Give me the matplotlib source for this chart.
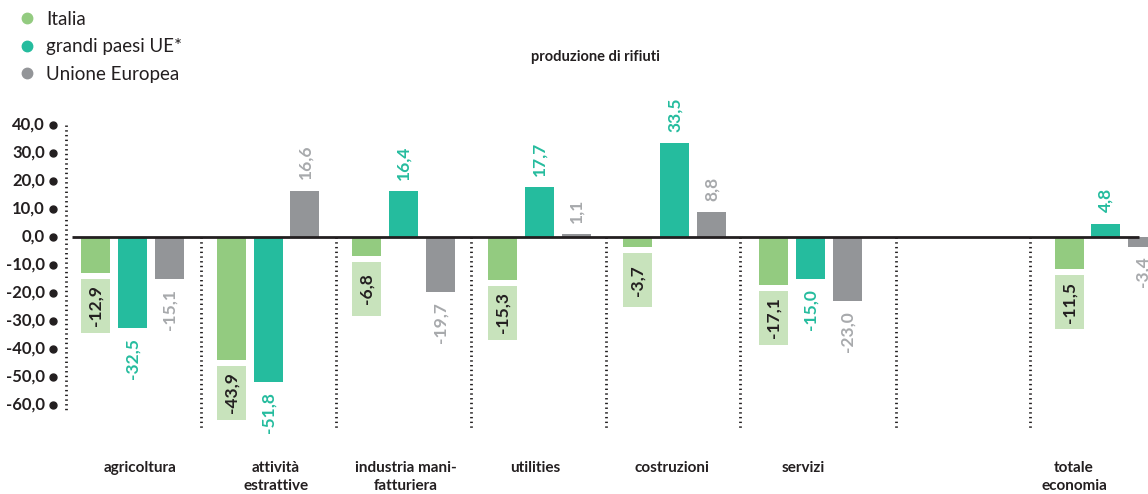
import matplotlib.pyplot as plt
from matplotlib.patches import Rectangle
from matplotlib.lines import Line2D

plt.rcParams['font.family'] = ['Lato', 'DejaVu Sans']

# dati
categorie = ['agricoltura', 'attività\nestrattive', 'industria mani-\nfatturiera',
             'utilities', 'costruzioni', 'servizi', 'totale\neconomia']
italia = [-12.9, -43.9, -6.8, -15.3, -3.7, -17.1, -11.5]
grandi_ue = [-32.5, -51.8, 16.4, 17.7, 33.5, -15.0, 4.8]
unione_europea = [-15.1, 16.6, -19.7, 1.1, 8.8, -23.0, -3.4]
y_ticks = [40, 30, 20, 10, 0, -10, -20, -30, -40, -50, -60]

c_ita = '#93cb80'
c_ita_box = '#c8e3bc'
c_gra = '#25bc9e'
c_ue = '#939598'
c_ue_txt = '#a7a9ac'
c_dark = '#231f20'

# posizioni dei gruppi (l'ultimo gruppo è staccato)
pos = [0, 1, 2, 3, 4, 5, 7.18]
spost_etich = [0.055, 0.055, 0.015, -0.03, -0.02, -0.05, -0.236]
divisori = [0.505, 1.5, 2.5, 3.49, 4.48, 5.63, 6.62]
off = 0.272
w = 0.214

fig = plt.figure(figsize=(11.48, 4.94), dpi=100)
ax = fig.add_axes([60 / 1148, 54 / 494, 1088 / 1148, 340 / 494])
ax.set_xlim(-0.535, 7.49)
ax.set_ylim(-72.5, 48.93)
ax.axis('off')

# barre
ax.bar([p - off for p in pos], italia, width=w, color=c_ita, zorder=2)
ax.bar(pos, grandi_ue, width=w, color=c_gra, zorder=2)
ax.bar([p + off for p in pos], unione_europea, width=w, color=c_ue, zorder=2)

# linea dello zero
ax.plot([-0.45, 7.42], [0, 0], color=c_dark, lw=2, zorder=3, solid_capstyle='butt')

# asse y tratteggiato e divisori
stile = dict(color=c_dark, lw=2, ls=(0, (0.5, 1.2)), dash_capstyle='butt', zorder=1)
ax.plot([-0.49, -0.49], [40, -62], **stile)
for d in divisori:
    ax.plot([d, d], [0, -68.5], **stile)

# etichette asse y
for t in y_ticks:
    ax.plot(-0.585, t, 'o', color=c_dark, ms=5, clip_on=False)
    ax.text(-0.645, t, f'{t:.1f}'.replace('.', ','), ha='right', va='center',
            fontsize=12, fontweight='bold', color=c_dark)

# etichette Italia (riquadro verde chiaro)
for p, v in zip(pos, italia):
    top = v - 2.1
    ax.add_patch(Rectangle((p - off - w / 2, top - 19.3), w, 19.3,
                           color=c_ita_box, zorder=2, lw=0))
    ax.text(p - off, top - 9.65, f'{v:.1f}'.replace('.', ','), rotation=90,
            ha='center', va='center', fontsize=12.5, fontweight='bold', color=c_dark)


def etichetta(x, v, col):
    s = f'{v:.1f}'.replace('.', ',')
    if v >= 0:
        ax.annotate(s, (x, v), xytext=(0, 8), textcoords='offset points', rotation=90,
                    ha='center', va='bottom', fontsize=12.5, fontweight='bold', color=col)
    else:
        ax.annotate(s, (x, v), xytext=(0, -7), textcoords='offset points', rotation=90,
                    ha='center', va='top', fontsize=12.5, fontweight='bold', color=col)


for p, v in zip(pos, grandi_ue):
    etichetta(p, v, c_gra)
for p, v in zip(pos, unione_europea):
    etichetta(p + off, v, c_ue_txt)

# categorie
for p, s, c in zip(pos, spost_etich, categorie):
    ax.text(p + s, -80, c, ha='center', va='top', fontsize=11, fontweight='bold',
            color=c_dark, linespacing=1.4, clip_on=False)

# titolo
fig.text(595 / 1148, 1 - 57 / 494, 'produzione di rifiuti', ha='center', va='center',
         fontsize=10.5, fontweight='bold', color=c_dark)

# legenda
handles = [Line2D([], [], marker='o', ls='', color=c, ms=7.5) for c in (c_ita, c_gra, c_ue)]
fig.legend(handles, ['Italia', 'grandi paesi UE*', 'Unione Europea'], loc='upper left',
           bbox_to_anchor=(-0.002, 1.012), frameon=False, fontsize=13.5, handletextpad=0.4,
           labelspacing=0.55, labelcolor=c_dark, handlelength=1.3)

fig.savefig('out.png', dpi=100)
